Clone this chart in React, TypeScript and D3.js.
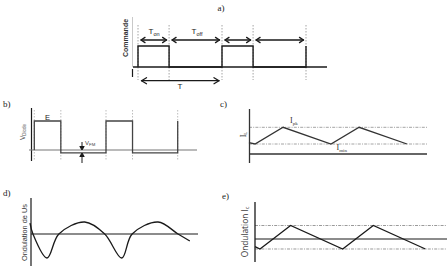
import React from 'react';
import * as d3 from 'd3';

const W = 447;
const H = 266;

// switching instants, in units of the period T (duty ratio ~0.37)
const switchTimes = [0, 0.37, 1, 1.37, 2];
// a) command signal level after each switching instant
const commandLevels = [1, 0, 1, 0, 1];
// b) diode voltage after each instant (E = 1, -VFM = -0.1)
const diodeLevels = [1, -0.1, 1, -0.1, 1];
// c) inductor current (Imin = 0, Ipk = 1)
const ilTimes = [-0.08, 0, 0.37, 1, 1.37, 2];
const ilValues = [0.08, 0, 1, 0, 1, 0];
const ilLevels = [1, 0];
// d) output voltage ripple
const usTimes = [0, 0.04, 0.23, 0.39, 0.74, 1.01, 1.24, 1.38, 1.73, 2.0, 2.16];
const usValues = [0.45, 0, -1, 0, 0.5, 0, -1, 0, 0.5, 0, -0.29];
// e) capacitor current ripple
const icTimes = [-0.06, 0, 0.37, 1, 1.37, 2];
const icValues = [-0.57, -0.74, 1, -0.74, 1, -0.74];
const icLevels = [1, -0.74];

const panelLabels = ['a)', 'b)', 'c)', 'd)', 'e)'];
const axisLabels = ['Commande', 'Ondulation de Us', 'Ondulation I'];
const arrowLabels = ['T', 'T', 'T'];

const DARK = '#1a1a1a';
const GRAY = '#9a9a9a';

function stepPoints(times: number[], levels: number[], start: number): [number, number][] {
  const pts: [number, number][] = [];
  let prev = start;
  times.forEach((t, i) => {
    pts.push([t, prev]);
    pts.push([t, levels[i]]);
    prev = levels[i];
  });
  return pts;
}

function DArrow({ x1, x2, y, s = 4, w = 2.6 }: { x1: number; x2: number; y: number; s?: number; w?: number }) {
  return (
    <g stroke={DARK} strokeWidth={1.3} fill="none" strokeLinecap="round" strokeLinejoin="round">
      <line x1={x1} x2={x2} y1={y} y2={y} />
      <path d={`M${x1 + s},${y - w} L${x1},${y} L${x1 + s},${y + w}`} />
      <path d={`M${x2 - s},${y - w} L${x2},${y} L${x2 - s},${y + w}`} />
    </g>
  );
}

export default function App() {
  const line = d3.line<[number, number]>();

  // ---- panel a
  const xa = d3.scaleLinear().domain([0, 1]).range([138, 222]);
  const ya = d3.scaleLinear().domain([0, 1]).range([67, 46]);
  const cmdPath = line(stepPoints(switchTimes, commandLevels, 0).map(([t, v]) => [xa(t), ya(v)]));

  // ---- panel b
  const xb = d3.scaleLinear().domain([0, 1]).range([34.3, 106]);
  const yb = d3.scaleLinear().domain([0, 1]).range([150, 121]);
  const diodePath = line(stepPoints(switchTimes, diodeLevels, 0).map(([t, v]) => [xb(t), yb(v)]));

  // ---- panel c
  const xc = d3.scaleLinear().domain([0, 1]).range([255, 331]);
  const yc = d3.scaleLinear().domain([0, 1]).range([144, 127.3]);
  const ilPath = line(ilTimes.map((t, i) => [xc(t), yc(ilValues[i])]));

  // ---- panel d
  const xd = d3.scaleLinear().domain([0, 1]).range([30, 104]);
  const yd = d3.scaleLinear().domain([0, 1]).range([234, 210]);
  const usPath = d3
    .line<[number, number]>()
    .curve(d3.curveCatmullRom.alpha(0.5))(usTimes.map((t, i) => [xd(t), yd(usValues[i])]));

  // ---- panel e
  const xe = d3.scaleLinear().domain([0, 1]).range([260, 342.7]);
  const ye = d3.scaleLinear().domain([0, 1]).range([239, 225.5]);
  const icPath = line(icTimes.map((t, i) => [xe(t), ye(icValues[i])]));

  const dashDot = '3,1.2,1,1.2';

  return (
    <svg
      width={W}
      height={H}
      viewBox={`0 0 ${W} ${H}`}
      style={{ position: 'absolute', left: 0, top: 0, background: '#fff' }}
    >
      {/* ================= a) ================= */}
      <text x={221} y={11} fontFamily="Liberation Serif, serif" fontSize={9} fill={DARK} textAnchor="middle">
        {panelLabels[0]}
      </text>
      <line x1={132.5} x2={132.5} y1={17} y2={67} stroke="#bbb" strokeWidth={0.8} />
      <line x1={132.5} x2={132.5} y1={69} y2={77} stroke={DARK} strokeWidth={1.2} />
      <text
        transform="translate(127.5,38) rotate(-90)"
        fontFamily="Liberation Sans, Arial, sans-serif"
        fontSize={7}
        fontWeight={700}
        fill="#333"
        textAnchor="middle"
      >
        {axisLabels[0]}
      </text>
      {switchTimes.map((t, i) => (
        <line key={'da' + i} x1={xa(t)} x2={xa(t)} y1={25} y2={80} stroke={GRAY} strokeWidth={0.9} strokeDasharray="1.5,1.5" />
      ))}
      <line x1={133} x2={327} y1={ya(0)} y2={ya(0)} stroke={DARK} strokeWidth={1.3} />
      <path d={cmdPath || ''} fill="none" stroke={DARK} strokeWidth={1.4} />
      {switchTimes.slice(0, -1).map((t, i) => (
        <DArrow key={'aa' + i} x1={xa(t) + 3} x2={xa(switchTimes[i + 1]) - 2.5} y={40} />
      ))}
      <DArrow x1={xa(0) + 3.5} x2={xa(1) - 3} y={80.7} s={5} w={3} />
      <text x={154} y={34} fontFamily="Liberation Sans, Arial, sans-serif" fontSize={8} fill={DARK} textAnchor="middle">
        {arrowLabels[0]}
        <tspan fontSize={5.5} dy={1.5}>on</tspan>
      </text>
      <text x={197} y={34} fontFamily="Liberation Sans, Arial, sans-serif" fontSize={8} fill={DARK} textAnchor="middle">
        {arrowLabels[1]}
        <tspan fontSize={5.5} dy={1.5}>off</tspan>
      </text>
      <text x={180} y={89} fontFamily="Liberation Sans, Arial, sans-serif" fontSize={8} fill={DARK} textAnchor="middle">
        {arrowLabels[2]}
      </text>

      {/* ================= b) ================= */}
      <text x={3} y={107} fontFamily="Liberation Serif, serif" fontSize={9} fill={DARK}>
        {panelLabels[1]}
      </text>
      <line x1={31.5} x2={31.5} y1={108} y2={161} stroke={DARK} strokeWidth={1.2} />
      <text
        transform="translate(24.5,132) rotate(-90)"
        fontFamily="Liberation Sans, Arial, sans-serif"
        fontSize={6.5}
        fill="#555"
        textAnchor="middle"
      >
        V<tspan fontSize={4.5} dy={1.5}>Diode</tspan>
      </text>
      {switchTimes.map((t, i) => (
        <line key={'db' + i} x1={xb(t)} x2={xb(t)} y1={110} y2={161} stroke="#b5b5b5" strokeWidth={0.9} strokeDasharray="1.5,1.5" />
      ))}
      <line x1={29} x2={197} y1={yb(0)} y2={yb(0)} stroke="#777" strokeWidth={1.2} />
      <path d={diodePath || ''} fill="none" stroke="#444" strokeWidth={1.3} />
      <text x={47.5} y={119.5} fontFamily="Liberation Sans, Arial, sans-serif" fontSize={7.5} fill={DARK} textAnchor="middle">
        E
      </text>
      <g stroke={DARK} strokeWidth={1} fill={DARK}>
        <line x1={82} x2={82} y1={142} y2={148} />
        <path d="M79.8,146.5 L82,150 L84.2,146.5 Z" />
        <line x1={82} x2={82} y1={163} y2={156} />
        <path d="M79.8,156.5 L82,153 L84.2,156.5 Z" />
      </g>
      <text x={85} y={145} fontFamily="Liberation Sans, Arial, sans-serif" fontSize={6} fill="#444">
        V<tspan fontSize={4.3} dy={1}>FM</tspan>
      </text>

      {/* ================= c) ================= */}
      <text x={220} y={107} fontFamily="Liberation Serif, serif" fontSize={9} fill={DARK}>
        {panelLabels[2]}
      </text>
      {ilLevels.map((v, i) => (
        <line key={'lc' + i} x1={249} x2={427} y1={yc(v)} y2={yc(v)} stroke={GRAY} strokeWidth={0.9} strokeDasharray={dashDot} />
      ))}
      <line x1={249.5} x2={249.5} y1={109} y2={163} stroke="#333" strokeWidth={1.3} />
      <line x1={249} x2={427} y1={154} y2={154} stroke="#333" strokeWidth={1.3} />
      <path d={ilPath || ''} fill="none" stroke="#333" strokeWidth={1.3} />
      <text
        transform="translate(245.5,134.5) rotate(-90)"
        fontFamily="Liberation Serif, serif"
        fontSize={8}
        fill="#333"
        textAnchor="middle"
      >
        I<tspan fontSize={5} dy={1.5}>L</tspan>
      </text>
      <text x={290} y={123} fontFamily="Liberation Serif, serif" fontSize={8} fill="#333">
        I<tspan fontSize={5} dy={1.5}>pk</tspan>
      </text>
      <text x={336.5} y={150} fontFamily="Liberation Serif, serif" fontSize={8} fill="#333">
        I<tspan fontSize={5} dy={1.5}>min</tspan>
      </text>

      {/* ================= d) ================= */}
      <text x={3} y={196} fontFamily="Liberation Serif, serif" fontSize={9} fill={DARK}>
        {panelLabels[3]}
      </text>
      <line x1={31} x2={31} y1={198} y2={266} stroke={DARK} strokeWidth={1.2} />
      <text
        transform="translate(26.5,232.5) rotate(-90)"
        fontFamily="Liberation Sans, Arial, sans-serif"
        fontSize={7.4}
        fill="#333"
        textAnchor="middle"
      >
        {axisLabels[1]}
      </text>
      <line x1={31} x2={198} y1={yd(0)} y2={yd(0)} stroke={DARK} strokeWidth={1.2} />
      <path d={usPath || ''} fill="none" stroke={DARK} strokeWidth={1.3} />

      {/* ================= e) ================= */}
      <text x={222} y={199} fontFamily="Liberation Serif, serif" fontSize={9} fill={DARK}>
        {panelLabels[4]}
      </text>
      {icLevels.map((v, i) => (
        <line key={'le' + i} x1={255} x2={447} y1={ye(v)} y2={ye(v)} stroke={GRAY} strokeWidth={1} strokeDasharray={dashDot} />
      ))}
      <line x1={255} x2={255} y1={202} y2={262} stroke={DARK} strokeWidth={1.3} />
      <line x1={255} x2={447} y1={ye(0)} y2={ye(0)} stroke={DARK} strokeWidth={1.2} />
      <path d={icPath || ''} fill="none" stroke={DARK} strokeWidth={1.3} />
      <text
        transform="translate(247.5,232) rotate(-90)"
        fontFamily="Open Sans, Liberation Sans, sans-serif"
        fontSize={8.3}
        fill="#333"
        textAnchor="middle"
      >
        {axisLabels[2]}
        <tspan fontSize={5.5} dy={1.5}>c</tspan>
      </text>
    </svg>
  );
}
